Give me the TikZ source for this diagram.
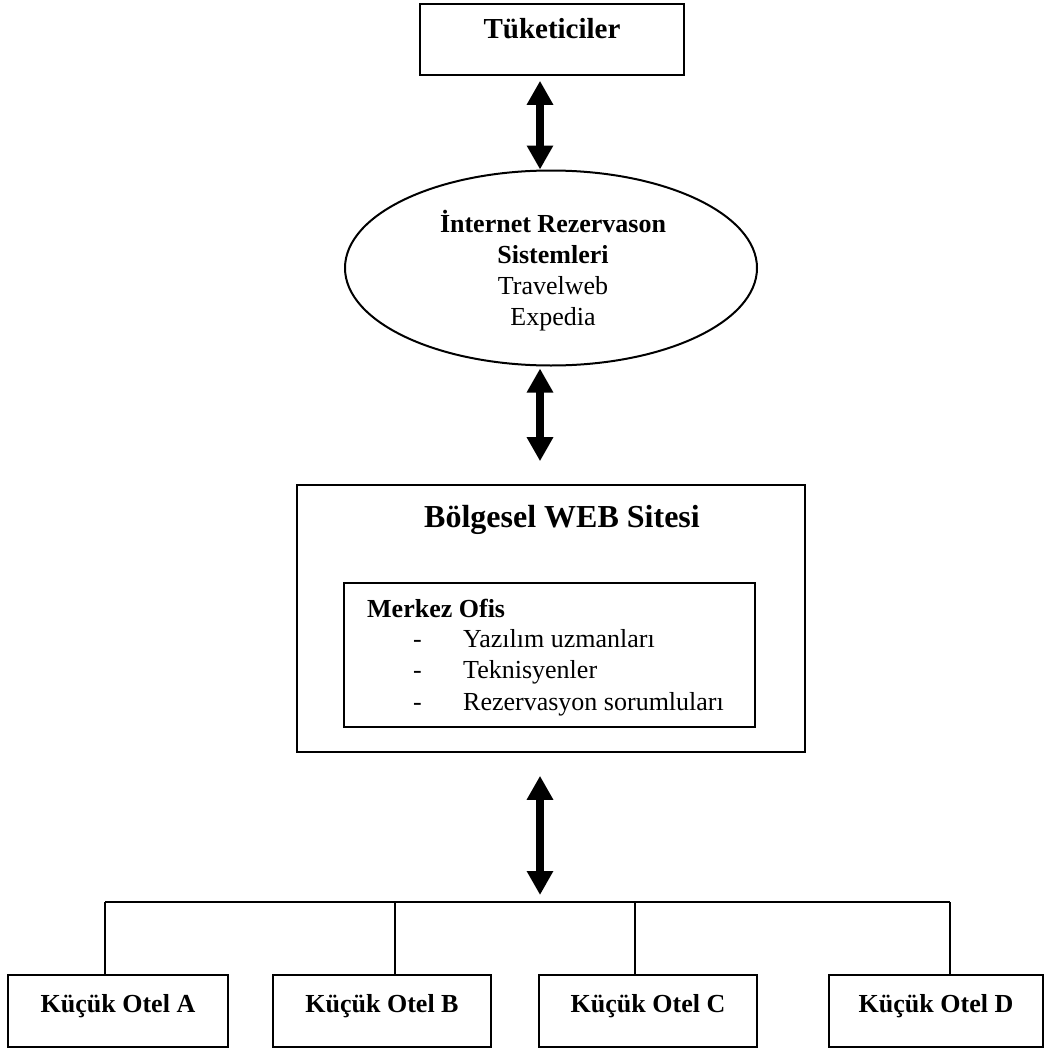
\documentclass[tikz,border=0pt]{standalone}
\usepackage{fontspec}
\setmainfont{Liberation Serif}
\usetikzlibrary{arrows.meta,shapes.geometric}
\begin{document}
\begin{tikzpicture}[x=1pt,y=-1pt,
  box/.style={draw, line width=1.6pt, rectangle, inner sep=0pt},
  dbl/.style={line width=8pt, {Triangle[width=25pt,length=24pt]}-{Triangle[width=25pt,length=24pt]}},
  tree/.style={line width=1.2pt},
  bt/.style={font=\fontsize{26}{31}\selectfont\bfseries, inner sep=0pt},
  rt/.style={font=\fontsize{26}{31}\selectfont, inner sep=0pt},
  hotel/.style={box, minimum height=72pt},
]
\useasboundingbox (0,0) rectangle (1045,1049);

% top box
\node[box, minimum width=264pt, minimum height=71pt] (tuk) at (552,39.5) {};
\node[bt, font=\fontsize{29}{34}\selectfont\bfseries, anchor=base] (tukt) at (552,39) {Tüketiciler};

% ellipse
\node[draw, ellipse, line width=2pt, minimum width=412pt, minimum height=195pt, inner sep=0pt] (ell) at (551,268) {};
\node[bt, anchor=base] (e1) at (553,232) {İnternet Rezervason};
\node[bt, anchor=base] (e2) at (553,263) {Sistemleri};
\node[rt, anchor=base] (e3) at (553,294) {Travelweb};
\node[rt, anchor=base] (e4) at (553,325) {Expedia};

% web site box
\node[box, minimum width=508pt, minimum height=267pt] (web) at (551,618.5) {};
\node[bt, font=\fontsize{32}{38}\selectfont\bfseries, anchor=base] (webt) at (562,527) {Bölgesel WEB Sitesi};
\node[box, minimum width=411pt, minimum height=144pt] (ofis) at (549.5,655) {};
\node[bt, anchor=base west] (mo) at (367,617) {Merkez Ofis};
\node[rt, anchor=base west] (d1) at (413,647) {-};
\node[rt, anchor=base west] (d2) at (413,678) {-};
\node[rt, anchor=base west] (d3) at (413,710) {-};
\node[rt, anchor=base west] (i1) at (463,647) {Yazılım uzmanları};
\node[rt, anchor=base west] (i2) at (463,678) {Teknisyenler};
\node[rt, anchor=base west] (i3) at (463,710) {Rezervasyon sorumluları};

% hotels
\node[hotel, minimum width=220pt] (ha) at (118,1011) {};
\node[hotel, minimum width=218pt] (hb) at (382,1011) {};
\node[hotel, minimum width=218pt] (hc) at (648,1011) {};
\node[hotel, minimum width=214pt] (hd) at (936,1011) {};
\node[bt, anchor=base] (hat) at (118,1012) {Küçük Otel A};
\node[bt, anchor=base] (hbt) at (382,1012) {Küçük Otel B};
\node[bt, anchor=base] (hct) at (648,1012) {Küçük Otel C};
\node[bt, anchor=base] (hdt) at (936,1012) {Küçük Otel D};

% tree
\coordinate (bus) at (540,902);
\coordinate (pa) at (105,902);
\coordinate (pb) at (395,902);
\coordinate (pc) at (635,902);
\coordinate (pd) at (950,902);
\draw[tree] (pa) -- (pd);
\draw[tree] (pa) -- (pa |- ha.north);
\draw[tree] (pb) -- (pb |- hb.north);
\draw[tree] (pc) -- (pc |- hc.north);
\draw[tree] (pd) -- (pd |- hd.north);

% arrows
\coordinate (ax) at (540,0);
\draw[dbl, shorten <=5pt] (ax |- tuk.south) -- (ax |- ell.north);
\draw[dbl, shorten <=2pt, shorten >=23pt] (ax |- ell.south) -- (ax |- web.north);
\draw[dbl, shorten <=23pt, shorten >=7pt] (ax |- web.south) -- (bus);
\end{tikzpicture}
\end{document}
